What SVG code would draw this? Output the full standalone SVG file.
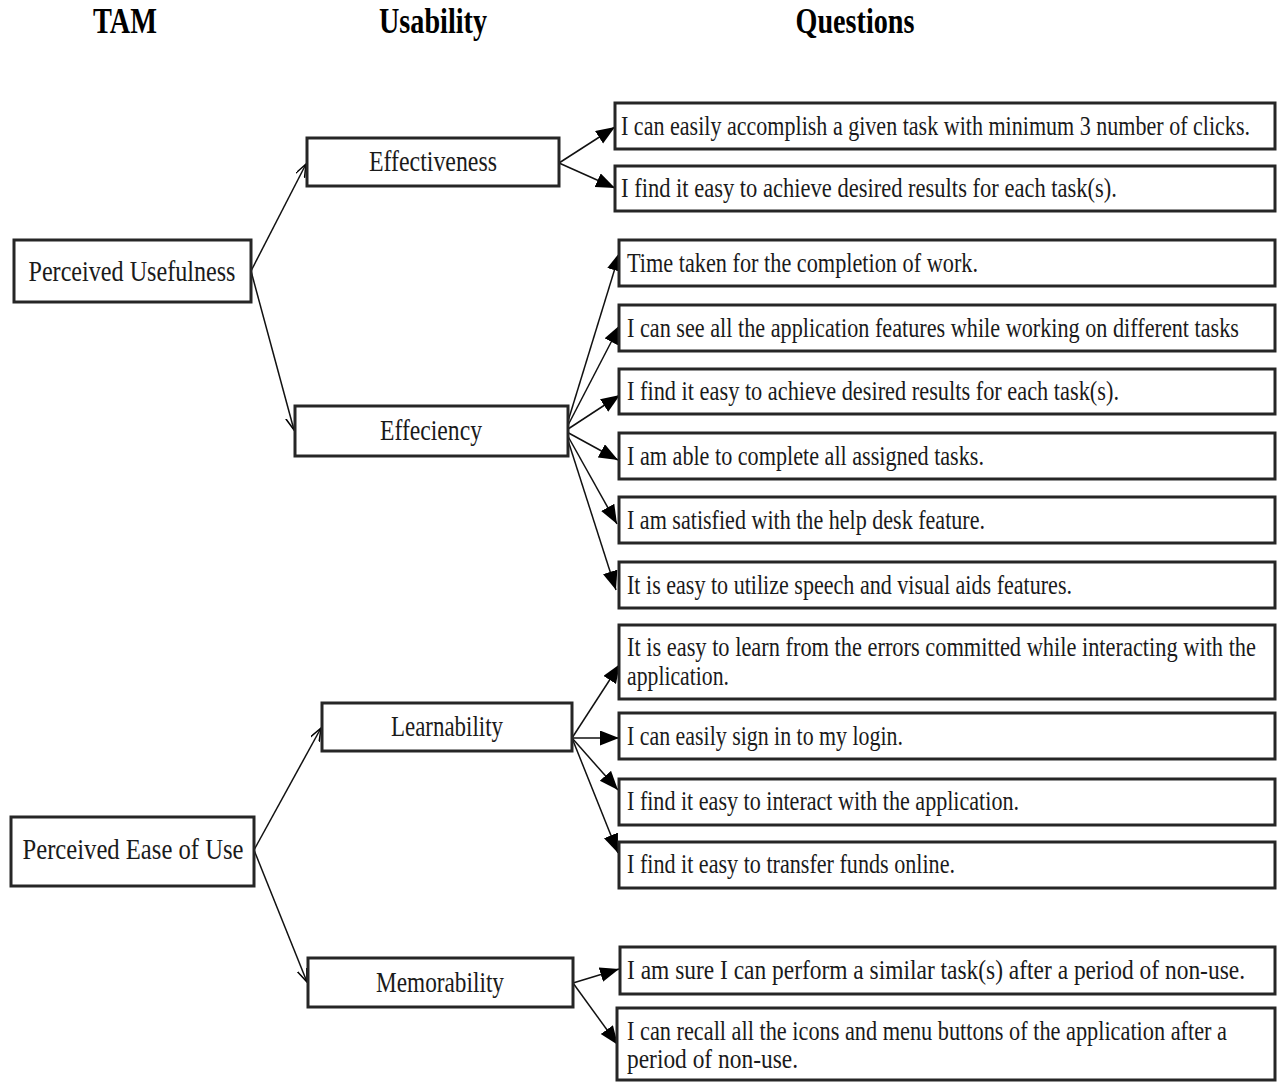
<svg xmlns="http://www.w3.org/2000/svg" width="1278" height="1082" viewBox="0 0 1278 1082">
<style>
.box{fill:#fff;stroke:#262626;stroke-width:3}
.hd{font-family:"Liberation Serif","Times New Roman",serif;font-weight:bold;font-size:35px;fill:#000;text-anchor:middle}
.nl{font-family:"Liberation Serif","Times New Roman",serif;font-size:30px;fill:#1a1a1a;text-anchor:middle}
.q{font-family:"Liberation Serif","Times New Roman",serif;font-size:27px;fill:#1a1a1a}
.c{stroke:#111;stroke-width:1.5;fill:none}
.ca{marker-end:url(#fa)}
.co{marker-end:url(#oa)}
</style>
<defs>
<marker id="fa" markerUnits="userSpaceOnUse" markerWidth="20" markerHeight="16" refX="19" refY="7.5" orient="auto">
<path d="M0,0 L19,7.5 L0,15 z" fill="#000"/>
</marker>
<marker id="oa" markerUnits="userSpaceOnUse" markerWidth="16" markerHeight="12" refX="13" refY="5" orient="auto">
<path d="M0,0 L13,5 L0,10" fill="none" stroke="#000" stroke-width="1.5"/>
</marker>
</defs>
<rect width="1278" height="1082" fill="#fff"/>

<g id="headers">
<text class="hd" x="125" y="33" textLength="64" lengthAdjust="spacingAndGlyphs">TAM</text>
<text class="hd" x="433" y="33" textLength="108" lengthAdjust="spacingAndGlyphs">Usability</text>
<text class="hd" x="855" y="33" textLength="119" lengthAdjust="spacingAndGlyphs">Questions</text>
</g>

<g id="connectors">
<line class="c co" x1="251" y1="271" x2="306" y2="164"/>
<line class="c co" x1="251" y1="271" x2="294" y2="430"/>
<line class="c co" x1="254" y1="850" x2="321" y2="728"/>
<line class="c co" x1="254" y1="850" x2="307" y2="982"/>
<line class="c ca" x1="559" y1="163" x2="615" y2="127"/>
<line class="c ca" x1="559" y1="163" x2="615" y2="188"/>
<line class="c ca" x1="565" y1="431" x2="620" y2="252"/>
<line class="c ca" x1="565" y1="431" x2="620" y2="325"/>
<line class="c ca" x1="565" y1="431" x2="620" y2="395"/>
<line class="c ca" x1="565" y1="431" x2="618" y2="460"/>
<line class="c ca" x1="565" y1="431" x2="617" y2="524"/>
<line class="c ca" x1="565" y1="431" x2="616" y2="590"/>
<line class="c ca" x1="572" y1="738" x2="620" y2="664"/>
<line class="c ca" x1="572" y1="738" x2="619" y2="738"/>
<line class="c ca" x1="572" y1="738" x2="618" y2="790"/>
<line class="c ca" x1="572" y1="738" x2="618" y2="853"/>
<line class="c ca" x1="573" y1="983" x2="619" y2="969"/>
<line class="c ca" x1="573" y1="983" x2="618" y2="1045"/>
</g>

<g id="pu"><rect class="box" x="14" y="240" width="237" height="62"/><text class="nl" x="132" y="281" textLength="207" lengthAdjust="spacingAndGlyphs">Perceived Usefulness</text></g>
<g id="peu"><rect class="box" x="11" y="817" width="243" height="69"/><text class="nl" x="133" y="859" textLength="221" lengthAdjust="spacingAndGlyphs">Perceived Ease of Use</text></g>
<g id="effectiveness"><rect class="box" x="307" y="138" width="252" height="48"/><text class="nl" x="433" y="171" textLength="128" lengthAdjust="spacingAndGlyphs">Effectiveness</text></g>
<g id="effeciency"><rect class="box" x="295" y="406" width="273" height="50"/><text class="nl" x="431" y="440" textLength="102" lengthAdjust="spacingAndGlyphs">Effeciency</text></g>
<g id="learnability"><rect class="box" x="322" y="703" width="250" height="48"/><text class="nl" x="447" y="736" textLength="112" lengthAdjust="spacingAndGlyphs">Learnability</text></g>
<g id="memorability"><rect class="box" x="308" y="958" width="265" height="49"/><text class="nl" x="440" y="992" textLength="128" lengthAdjust="spacingAndGlyphs">Memorability</text></g>

<g id="q1"><rect class="box" x="615" y="103" width="660" height="46"/><text class="q" x="621" y="135" textLength="629" lengthAdjust="spacingAndGlyphs">I can easily accomplish a given task with minimum 3 number of clicks.</text></g>
<g id="q2"><rect class="box" x="615" y="166" width="660" height="45"/><text class="q" x="621" y="197" textLength="496" lengthAdjust="spacingAndGlyphs">I find it easy to achieve desired results for each task(s).</text></g>
<g id="q3"><rect class="box" x="619" y="240" width="656" height="46"/><text class="q" x="627" y="272" textLength="351" lengthAdjust="spacingAndGlyphs">Time taken for the completion of work.</text></g>
<g id="q4"><rect class="box" x="619" y="305" width="656" height="46"/><text class="q" x="627" y="337" textLength="612" lengthAdjust="spacingAndGlyphs">I can see all the application features while working on different tasks</text></g>
<g id="q5"><rect class="box" x="619" y="369" width="656" height="45"/><text class="q" x="627" y="400" textLength="492" lengthAdjust="spacingAndGlyphs">I find it easy to achieve desired results for each task(s).</text></g>
<g id="q6"><rect class="box" x="619" y="433" width="656" height="46"/><text class="q" x="627" y="465" textLength="357" lengthAdjust="spacingAndGlyphs">I am able to complete all assigned tasks.</text></g>
<g id="q7"><rect class="box" x="619" y="497" width="656" height="46"/><text class="q" x="627" y="529" textLength="358" lengthAdjust="spacingAndGlyphs">I am satisfied with the help desk feature.</text></g>
<g id="q8"><rect class="box" x="619" y="562" width="656" height="46"/><text class="q" x="627" y="594" textLength="445" lengthAdjust="spacingAndGlyphs">It is easy to utilize speech and visual aids features.</text></g>
<g id="q9"><rect class="box" x="619" y="625" width="656" height="74"/><text class="q" x="627" y="656" textLength="629" lengthAdjust="spacingAndGlyphs">It is easy to learn from the errors committed while interacting with the</text><text class="q" x="627" y="685" textLength="102" lengthAdjust="spacingAndGlyphs">application.</text></g>
<g id="q10"><rect class="box" x="619" y="713" width="656" height="46"/><text class="q" x="627" y="745" textLength="276" lengthAdjust="spacingAndGlyphs">I can easily sign in to my login.</text></g>
<g id="q11"><rect class="box" x="619" y="779" width="656" height="46"/><text class="q" x="627" y="810" textLength="392" lengthAdjust="spacingAndGlyphs">I find it easy to interact with the application.</text></g>
<g id="q12"><rect class="box" x="619" y="842" width="656" height="46"/><text class="q" x="627" y="873" textLength="328" lengthAdjust="spacingAndGlyphs">I find it easy to transfer funds online.</text></g>
<g id="q13"><rect class="box" x="620" y="947" width="655" height="47"/><text class="q" x="627" y="979" textLength="618" lengthAdjust="spacingAndGlyphs">I am sure I can perform a similar task(s) after a period of non-use.</text></g>
<g id="q14"><rect class="box" x="617" y="1008" width="658" height="72"/><text class="q" x="627" y="1040" textLength="600" lengthAdjust="spacingAndGlyphs">I can recall all the icons and menu buttons of the application after a</text><text class="q" x="627" y="1068" textLength="171" lengthAdjust="spacingAndGlyphs">period of non-use.</text></g>
</svg>
